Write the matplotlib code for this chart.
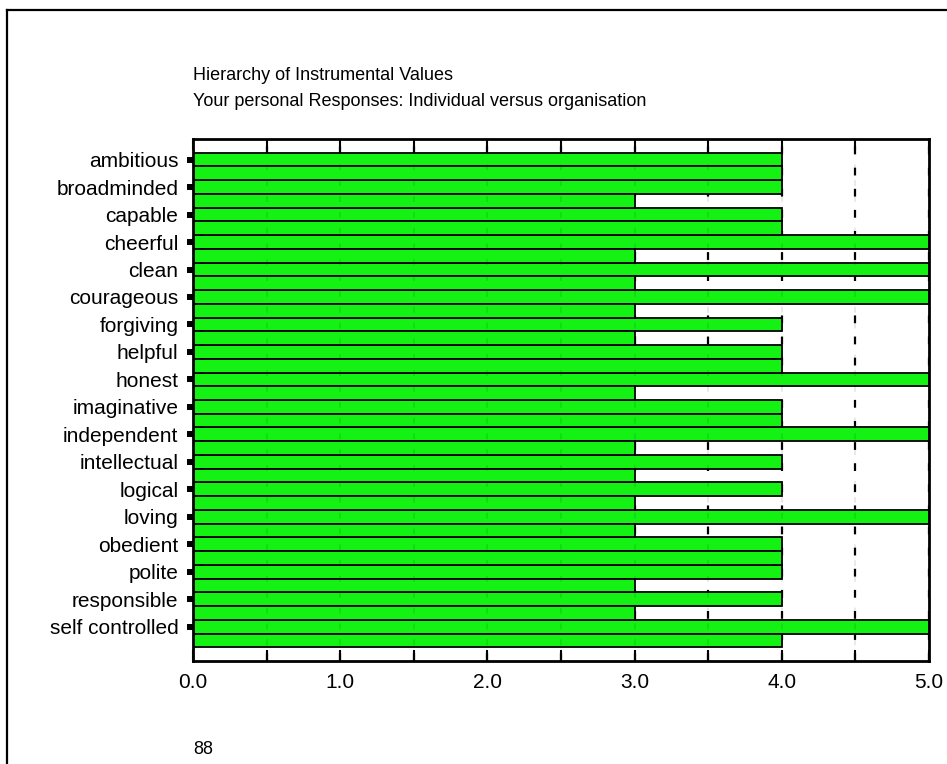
import numpy as np
import matplotlib.pyplot as plt
from matplotlib.lines import Line2D

plt.rcParams['font.family'] = ['Liberation Sans', 'DejaVu Sans']

# instrumental values, two responses per value
values = ["ambitious", "broadminded", "capable", "cheerful", "clean",
          "courageous", "forgiving", "helpful", "honest", "imaginative",
          "independent", "intellectual", "logical", "loving", "obedient",
          "polite", "responsible", "self controlled"]
individual = [4, 4, 4, 5, 5, 5, 4, 4, 5, 4, 5, 4, 4, 5, 4, 4, 4, 5]
organisation = [4, 3, 4, 3, 3, 3, 3, 4, 3, 4, 3, 3, 3, 3, 4, 3, 3, 4]
xticks = np.arange(0, 5.01, 0.5)
xlabels = ["0.0", "", "1.0", "", "2.0", "", "3.0", "", "4.0", "", "5.0"]

green = "#14f214"
W, H = 947, 764

fig = plt.figure(figsize=(W / 100, H / 100), dpi=100)
ax = fig.add_axes([193 / W, 1 - 661 / H, (929 - 193) / W, (661 - 139) / H])

pos = np.arange(len(values)) * 2
ax.barh(pos, individual, height=1.0, color=green, edgecolor="black",
        linewidth=1.3, zorder=2)
ax.barh(pos + 1, organisation, height=1.0, color=green, edgecolor="black",
        linewidth=1.3, zorder=2)

ax.set_xlim(0, 5)
ax.set_ylim(2 * len(values) + 0.5, -1.5)

# dashed grid, faintly visible through the bars as well
ax.grid(axis="x", color="black", linestyle=(0, (3.5, 6)), linewidth=1.6, zorder=1)
for x in xticks[1:-1]:
    ax.axvline(x, color="black", linestyle=(0, (3.5, 6)), linewidth=1.2,
               alpha=0.1, zorder=3)

ax.set_xticks(xticks)
ax.set_xticklabels(xlabels)
ax.tick_params(axis="x", direction="in", length=8, width=1.5, top=True,
               labelsize=15, pad=9)
ax.set_yticks(pos)
ax.set_yticklabels(values)
ax.tick_params(axis="y", direction="out", length=4.5, width=4.3,
               labelsize=15, pad=6)

for s in ax.spines.values():
    s.set_linewidth(2)

fig.text(193 / W, 1 - 76 / H, "Hierarchy of Instrumental Values",
         fontsize=13, va="center", ha="left")
fig.text(193 / W, 1 - 101 / H,
         "Your personal Responses: Individual versus organisation",
         fontsize=13, va="center", ha="left")
fig.text(193 / W, 1 - 750 / H, "88", fontsize=13, va="center", ha="left")

# outer frame (top and left edges)
fig.add_artist(Line2D([7 / W, 1], [1 - 10 / H, 1 - 10 / H],
                      transform=fig.transFigure, color="black", linewidth=1.6))
fig.add_artist(Line2D([7 / W, 7 / W], [1 - 10 / H, 0],
                      transform=fig.transFigure, color="black", linewidth=1.6))

fig.savefig("out.png", dpi=100)
